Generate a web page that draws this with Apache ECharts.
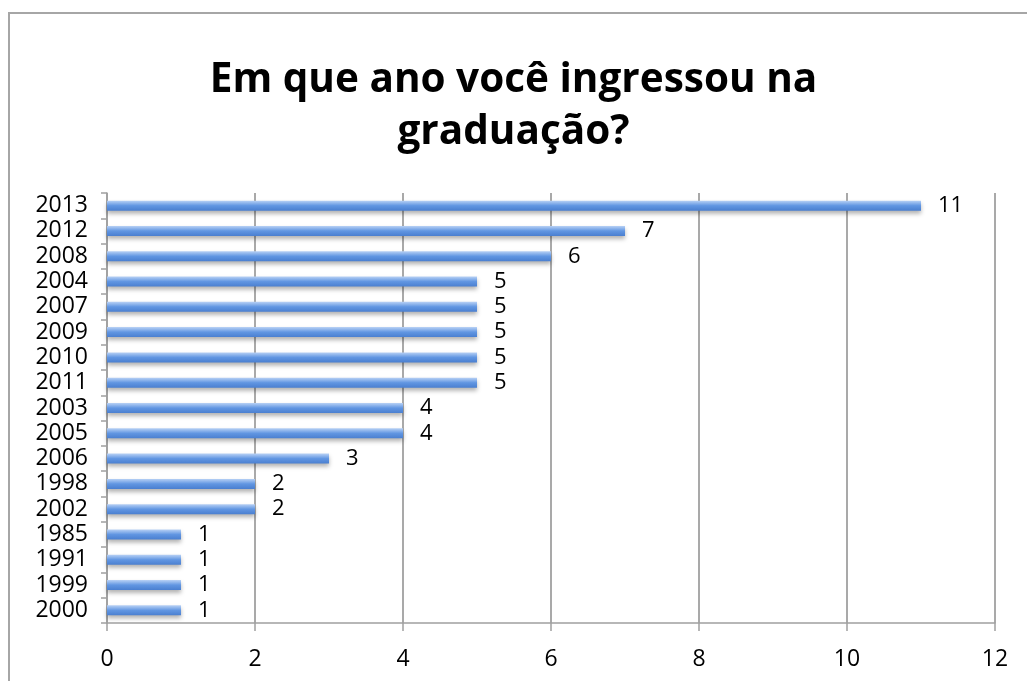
<!DOCTYPE html>
<html><head><meta charset="utf-8">
<script src="https://cdn.jsdelivr.net/npm/echarts@6/dist/echarts.min.js"></script>
<style>html,body{margin:0;padding:0;background:#fff}#c{width:1027px;height:681px}</style>
</head><body><div id="c"></div>
<script>
const titleText = 'Em que ano você ingressou na\ngraduação?';
const categories = ['2013','2012','2008','2004','2007','2009','2010','2011','2003','2005','2006','1998','2002','1985','1991','1999','2000'];
const values = [11,7,6,5,5,5,5,5,4,4,3,2,2,1,1,1,1];
const xTicks = {min:0, max:12, interval:2};

const chart = echarts.init(document.getElementById('c'));
chart.setOption({
  animation:false,
  graphic:[{type:'rect', shape:{x:9,y:13,width:1100,height:800}, style:{fill:'none',stroke:'#a6a6a6',lineWidth:2}, z:-1}],
  title:{text:titleText, left:'center', top:49, itemGap:0,
    textStyle:{fontFamily:'Open Sans', fontWeight:'bold', fontSize:40.5, color:'#000', lineHeight:52}},
  grid:{left:107, right:32, top:193, bottom:58, containLabel:false},
  xAxis:{type:'value', min:xTicks.min, max:xTicks.max, interval:xTicks.interval,
    axisLine:{show:true, lineStyle:{color:'#a0a0a0', width:1.5}},
    axisTick:{show:true, length:8, lineStyle:{color:'#a0a0a0', width:1.5}},
    splitLine:{show:true, lineStyle:{color:'#8c8c8c', width:1.5}},
    axisLabel:{fontFamily:'Open Sans', fontSize:23, color:'#000', margin:25}},
  yAxis:{type:'category', data:categories, inverse:true,
    axisLine:{show:true, lineStyle:{color:'#a0a0a0', width:1.5}},
    axisTick:{show:true, length:6, inside:false, lineStyle:{color:'#a0a0a0', width:1.5}},
    axisLabel:{interval:0, hideOverlap:false, fontFamily:'Open Sans', fontSize:23, lineHeight:23, color:'#000', margin:19}},
  series:[{type:'bar', data:values, barWidth:10,
    itemStyle:{color:new echarts.graphic.LinearGradient(0,0,0,1,[
      {offset:0,color:'#b8d1f5'},{offset:0.5,color:'#6196e2'},{offset:1,color:'#4a7fd0'}]),
      shadowColor:'rgba(0,0,0,0.3)', shadowBlur:4, shadowOffsetY:3},
    label:{show:true, position:'right', distance:17, fontFamily:'Open Sans', fontSize:22, color:'#000'}}]
});
</script></body></html>
